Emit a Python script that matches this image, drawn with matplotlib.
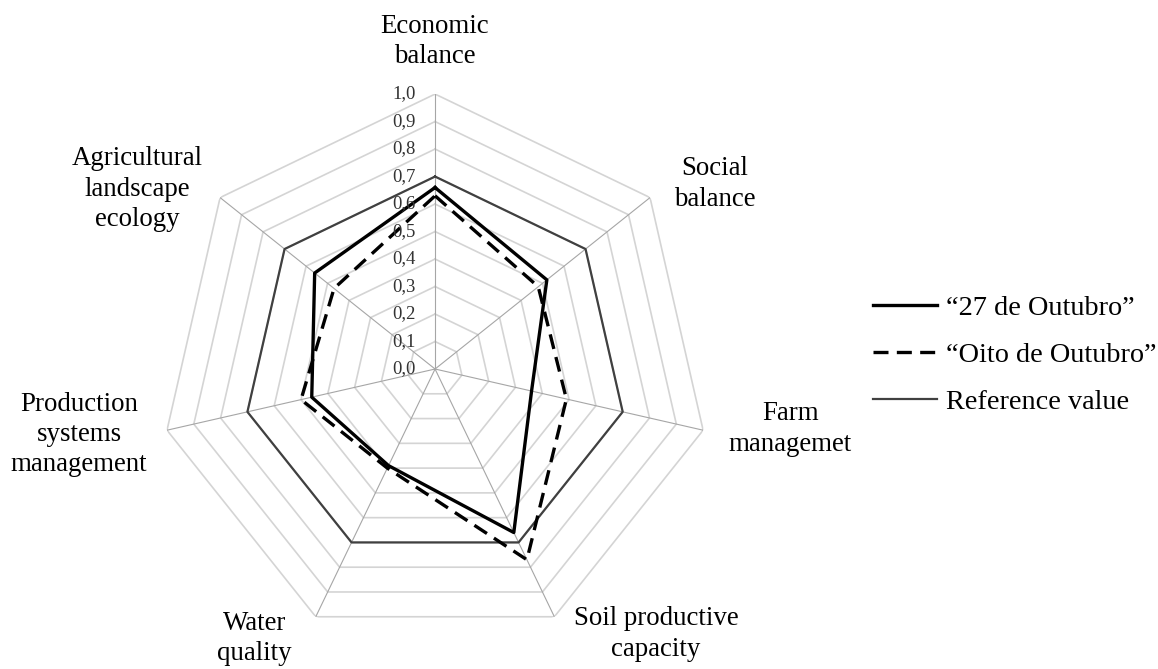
import numpy as np
import matplotlib
matplotlib.use("Agg")
import matplotlib.pyplot as plt
from matplotlib.lines import Line2D

plt.rcParams['font.family'] = ['Liberation Serif', 'DejaVu Serif']

# axes of the radar, clockwise from the top
categories = ["Economic\nbalance", "Social\nbalance", "Farm\nmanagemet",
              "Soil productive\ncapacity", "Water\nquality",
              "Production\nsystems\nmanagement",
              "Agricultural\nlandscape\necology"]
outubro_27 = [0.66, 0.52, 0.36, 0.66, 0.39, 0.46, 0.56]
oito_outubro = [0.63, 0.48, 0.49, 0.77, 0.40, 0.50, 0.47]
reference = [0.7, 0.7, 0.7, 0.7, 0.7, 0.7, 0.7]
ring_levels = [0.1, 0.2, 0.3, 0.4, 0.5, 0.6, 0.7, 0.8, 0.9, 1.0]
tick_labels = ["0,0", "0,1", "0,2", "0,3", "0,4", "0,5", "0,6", "0,7", "0,8", "0,9", "1,0"]
series_names = ["\u201c27 de Outubro\u201d", "\u201cOito de Outubro\u201d", "Reference value"]

# where the category labels sit (angle in degrees, radius)
label_angle = [0, 56.5, 99.6, 140.2, 213.8, 259.6, 301.1]
label_radius = [1.19, 1.22, 1.31, 1.255, 1.18, 1.316, 1.266]

n = len(categories)
theta = np.linspace(0, 2 * np.pi, n, endpoint=False)
theta_c = np.append(theta, theta[0])


def closed(vals):
    return np.append(vals, vals[0])


fig = plt.figure(figsize=(11.58, 6.69), dpi=100)
ax = fig.add_axes([0.1382, 0.0374, 0.475, 0.822], projection='polar')
ax.set_theta_zero_location('N')
ax.set_theta_direction(-1)
ax.set_ylim(0, 1)
ax.set_axis_off()

# grid rings and spokes
for lev in ring_levels:
    ax.plot(theta_c, [lev] * (n + 1), color='#d4d4d4', lw=1.2, zorder=1)
for t in theta:
    ax.plot([t, t], [0, 1], color='#a6a6a6', lw=0.8, zorder=2)

ax.plot(theta_c, closed(reference), color='#404040', lw=1.6, zorder=3)
ax.plot(theta_c, closed(outubro_27), color='black', lw=2.4, zorder=4)
ax.plot(theta_c, closed(oito_outubro), color='black', lw=2.4,
        linestyle=(0, (4.5, 2.5)), zorder=4)

# value labels along the top spoke
for i, txt in enumerate(tick_labels):
    ax.annotate(txt, xy=(0, i / 10), xytext=(-14, 0), textcoords='offset points',
                ha='right', va='center', fontsize=13.5, color='#333333', zorder=5)

for cat, ang, rad in zip(categories, label_angle, label_radius):
    ax.text(np.deg2rad(ang), rad, cat, ha='center', va='center',
            fontsize=19.4, linespacing=1.28, color='black')

handles = [Line2D([], [], color='black', lw=2.4),
           Line2D([], [], color='black', lw=2.4, linestyle=(0, (4.5, 2.5))),
           Line2D([], [], color='#404040', lw=1.6)]
fig.legend(handles, series_names, loc='center left', bbox_to_anchor=(0.754, 0.469),
           frameon=False, fontsize=20.3, handlelength=2.25, handletextpad=0.33,
           labelspacing=0.75, borderpad=0, borderaxespad=0)

fig.savefig("out.png", dpi=100)
